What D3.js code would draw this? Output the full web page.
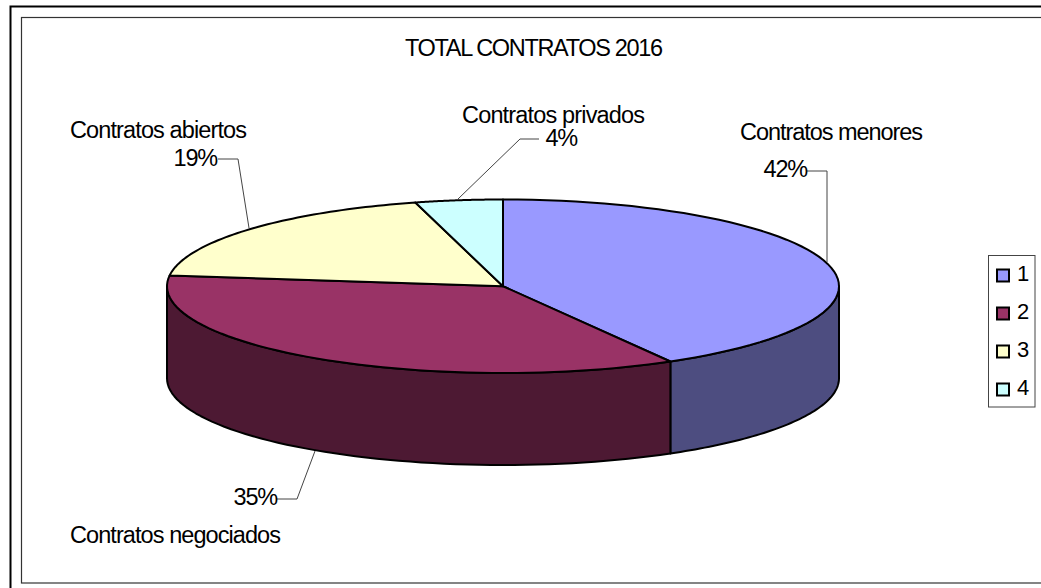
<!DOCTYPE html>
<html><head><meta charset="utf-8">
<script src="https://cdn.jsdelivr.net/npm/d3@7"></script>
<style>html,body{margin:0;padding:0;background:#fff}svg{display:block}text{font-family:"Liberation Sans",Arial,sans-serif;fill:#000}</style>
</head><body><svg id="c" width="1041" height="588"></svg>
<script>
const title = "TOTAL CONTRATOS 2016";
const categories = ["Contratos menores","Contratos negociados","Contratos abiertos","Contratos privados"];
const values = [41.7,35.3,18.8,4.2];
const legendKeys = ["1","2","3","4"];
const topColors = ["#9999FF","#993366","#FFFFCC","#CCFFFF"];
const sideColors = ["#4D4D80","#4D1933","#808066","#668080"];

const svg = d3.select("#c");
const x = d3.scaleLinear([-1,1],[167,839]);
const y = d3.scaleLinear([-1,1],[199.5,373]);
const depth = 92;
const pct = d3.format(".0f");
const arcs = d3.pie().sort(null).value(d=>d)(values);
const px = a => x(Math.sin(a)), py = a => y(-Math.cos(a));
const line = d3.line();
const sample = (a0,a1,dy=0) => d3.range(0,61).map(i=>{const a=a0+(a1-a0)*i/60;return [px(a),py(a)+dy];});

// frames
svg.append("rect").attr("x",10.5).attr("y",6.5).attr("width",1100).attr("height",700).attr("fill","none").attr("stroke","#000").attr("stroke-width",2);
svg.append("rect").attr("x",21.5).attr("y",17.5).attr("width",1100).attr("height",565.5).attr("fill","none").attr("stroke","#333").attr("stroke-width",1.2);

// walls
const L=Math.PI/2,R=3*Math.PI/2;
arcs.forEach((d,i)=>{
  const a0=Math.max(d.startAngle,L),a1=Math.min(d.endAngle,R);
  if(a1<=a0) return;
  const top=sample(a0,a1),bot=sample(a1,a0,depth);
  svg.append("path").attr("d",line(top.concat(bot))+"Z").attr("fill",sideColors[i]).attr("stroke","#000").attr("stroke-width",2).attr("stroke-linejoin","round");
});
// top faces
arcs.forEach((d,i)=>{
  const pts=[[x(0),y(0)]].concat(sample(d.startAngle,d.endAngle));
  svg.append("path").attr("d",line(pts)+"Z").attr("fill",topColors[i]).attr("stroke","#000").attr("stroke-width",2).attr("stroke-linejoin","round");
});

// title
svg.append("text").attr("x",405).attr("y",56).attr("font-size",23.5).attr("textLength",258).attr("lengthAdjust","spacing").text(title);

// labels
const labelLayout=[
 {name:[740,140,183],p:[807,177,"end"],lead:[[807,171],[827,171],[827,262]]},
 {name:[70,543,211],p:[277,505,"end"],lead:[[277,499],[297,499],[315,451]]},
 {name:[70,138,177],p:[217,165.5,"end"],lead:[[218,159],[238,159],[249,228]]},
 {name:[462,123,183],p:[577,146,"end"],lead:[[539,139],[520,139],[458,199]]}
];
categories.forEach((c,i)=>{
  const l=labelLayout[i];
  svg.append("path").attr("d",line(l.lead)).attr("fill","none").attr("stroke","#444").attr("stroke-width",1);
  svg.append("text").attr("x",l.name[0]).attr("y",l.name[1]).attr("font-size",23.5).attr("textLength",l.name[2]).attr("lengthAdjust","spacing").text(c);
  svg.append("text").attr("x",l.p[0]).attr("y",l.p[1]).attr("text-anchor",l.p[2]).attr("font-size",23.5).attr("letter-spacing",-1.2).text(pct(values[i])+"%");
});

// legend
svg.append("rect").attr("x",988.5).attr("y",255.5).attr("width",46.5).attr("height",151.5).attr("fill","#fff").attr("stroke","#444").attr("stroke-width",1);
const ly=d3.scalePoint().domain(legendKeys).range([275.5,389.5]);
legendKeys.forEach((k,i)=>{
  svg.append("rect").attr("x",997).attr("y",ly(k)-6).attr("width",12).attr("height",12).attr("fill",topColors[i]).attr("stroke","#000").attr("stroke-width",2);
  svg.append("text").attr("x",1017).attr("y",ly(k)+5.5).attr("font-size",22).text(k);
});
</script></body></html>
